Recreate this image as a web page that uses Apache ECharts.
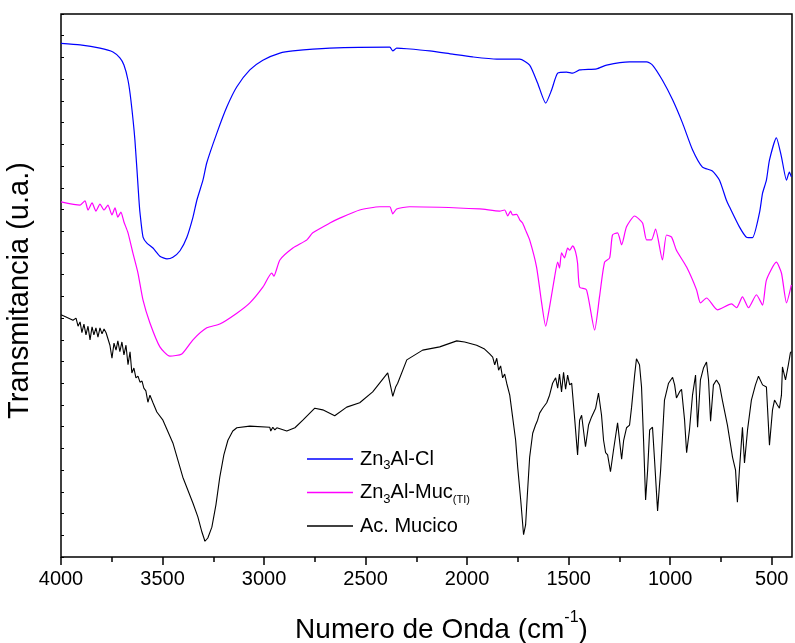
<!DOCTYPE html>
<html>
<head>
<meta charset="utf-8">
<script src="https://cdn.jsdelivr.net/npm/echarts@6/dist/echarts.min.js"></script>
<style>
html,body{margin:0;padding:0;background:#fff;}
#chart{width:795px;height:643px;}
</style>
</head>
<body>
<div id="chart"></div>
<script>
// ---- Data (wavenumber cm^-1, transmittance in arbitrary units) ----
var clWave = [4000,3906,3808,3744,3710,3690,3670,3656,3636,3616,3611,3596,3577,3547,3513,3478,3449,3414,3380,3350,3331,3301,3282,3232,3183,3134,3070,3006,2922,2858,2676,2381,2366,2347,2297,2184,2071,1973,1854,1741,1692,1653,1613,1584,1554,1510,1480,1446,1362,1313,1200,1116,1087,1038,988,939,890,841,792,757,723,708,659,624,595,560,545,526,511,477,452,427,413,403];
var clVal = [94.6,94.3,93.7,93.0,91.9,90.6,87.8,84.2,76.8,65.7,63.4,58.9,57.8,56.9,55.4,54.9,55.2,56.4,58.9,62.6,65.7,69.4,72.6,78.1,82.9,86.6,89.7,91.5,92.8,93.2,93.7,93.9,93.2,93.7,93.6,93.2,92.6,92.1,91.7,91.7,90.6,87.3,83.6,86.0,89.1,89.3,89.1,89.7,89.9,90.6,91.2,91.2,90.6,87.8,84.2,79.9,75.0,71.8,71.1,69.4,65.7,64.5,60.8,58.9,58.8,63.4,67.0,69.4,73.1,77.2,73.7,69.4,70.9,70.0];

var mucWave = [4000,3906,3882,3867,3847,3828,3808,3788,3769,3749,3734,3720,3705,3690,3670,3646,3621,3596,3562,3513,3464,3405,3350,3282,3218,3134,3070,3006,2962,2952,2922,2858,2789,2760,2676,2627,2529,2430,2381,2366,2347,2283,1938,1840,1815,1800,1786,1776,1756,1741,1727,1712,1692,1658,1633,1613,1594,1569,1554,1545,1535,1520,1505,1495,1480,1466,1456,1446,1412,1372,1348,1323,1298,1284,1259,1239,1215,1175,1136,1116,1092,1072,1038,1018,993,969,919,870,851,821,767,698,673,644,614,575,545,526,477,452,427,403];
var mucVal = [65.4,64.8,65.6,63.9,65.2,63.7,65.0,63.9,64.8,63.0,64.3,62.6,63.5,61.7,59.7,56.0,52.3,47.3,43.1,38.7,37.0,37.4,40.0,42.2,42.9,44.9,46.8,49.7,52.3,51.7,54.7,56.9,58.4,59.7,61.5,62.4,63.9,64.5,64.5,63.2,64.1,64.5,64.1,63.7,63.9,62.8,63.7,63.0,63.1,62.1,61.5,60.2,58.4,53.4,46.8,42.5,46.0,51.6,54.3,53.2,56.0,55.1,56.9,56.5,57.3,56.2,54.1,49.7,49.2,41.8,47.9,54.3,55.1,59.3,59.7,57.5,60.8,62.8,61.5,58.4,58.4,60.4,54.7,59.3,58.9,56.5,53.4,49.2,46.8,47.7,45.5,46.6,45.9,47.9,45.9,48.3,46.4,51.0,54.3,52.3,46.8,50.1];

var acWave = [4000,3975,3941,3926,3916,3906,3897,3887,3877,3867,3857,3847,3838,3828,3818,3808,3798,3788,3778,3769,3759,3749,3739,3729,3720,3710,3700,3690,3680,3670,3660,3651,3641,3631,3621,3611,3601,3592,3582,3572,3562,3547,3528,3498,3449,3400,3350,3326,3306,3291,3277,3257,3237,3218,3198,3178,3154,3134,3070,2972,2967,2957,2947,2937,2888,2848,2809,2750,2711,2652,2593,2529,2465,2391,2366,2352,2342,2297,2219,2135,2051,2012,1953,1914,1889,1874,1864,1854,1845,1835,1825,1815,1805,1790,1776,1761,1751,1736,1722,1712,1702,1692,1677,1663,1653,1643,1628,1608,1594,1579,1564,1554,1545,1535,1525,1515,1505,1495,1485,1471,1456,1446,1436,1417,1402,1387,1367,1353,1338,1328,1318,1308,1294,1279,1259,1239,1229,1215,1200,1190,1175,1166,1151,1141,1131,1121,1111,1101,1087,1077,1062,1047,1028,1008,988,978,969,954,944,929,919,905,890,875,865,851,836,821,811,801,787,772,757,743,718,693,678,669,659,644,634,619,600,580,565,545,526,511,496,486,472,462,452,447,432,423,418,408,403];
var acVal = [44.6,44.2,43.6,44.0,42.5,43.3,41.3,42.9,40.9,42.5,40.0,42.4,40.9,42.2,40.5,42.2,41.1,42.0,41.3,41.4,39.0,36.6,39.4,38.1,39.8,37.8,39.6,37.2,39.0,35.4,37.8,33.9,34.8,33.0,33.3,32.2,32.4,31.1,30.6,28.5,29.8,28.4,26.7,25.2,21.0,14.7,9.9,7.4,4.6,2.9,3.5,5.5,9.6,14.7,18.8,21.5,23.2,23.8,24.1,23.9,23.2,23.9,23.4,23.8,23.2,23.8,25.2,27.4,27.1,26.0,27.6,28.4,30.4,33.9,29.6,31.3,32.0,36.3,38.1,38.7,39.8,39.6,39.0,38.3,37.4,36.8,35.4,36.6,34.4,35.2,33.0,33.7,32.0,29.8,25.8,21.5,16.6,10.5,4.1,5.9,12.3,18.4,22.8,24.3,25.2,26.5,27.4,28.4,29.8,32.0,33.0,31.1,33.7,30.4,34.0,30.9,33.5,31.7,32.0,25.8,18.8,25.2,26.1,20.3,24.3,25.8,27.4,30.2,26.1,21.5,19.2,18.8,15.7,19.7,24.7,18.0,21.5,23.8,24.3,27.6,33.5,36.5,35.4,31.3,21.5,10.5,16.0,23.4,23.9,17.9,8.5,16.0,28.9,32.0,33.1,31.7,29.3,30.4,30.9,25.2,19.2,23.4,29.8,33.5,23.9,32.6,34.8,35.9,32.6,25.0,31.7,32.6,31.7,28.9,24.3,18.4,16.0,10.1,16.0,23.9,17.3,23.4,28.9,31.7,33.3,31.7,31.3,20.6,27.1,28.9,28.0,27.4,29.8,35.0,32.6,32.9,35.4,37.6,37.8];

var majorTicks = [4000,3500,3000,2500,2000,1500,1000,500];
var minorTicks = [3750,3250,2750,2250,1750,1250,750];

var seriesNames = ['Zn3Al-Cl','Zn3Al-Muc(TI)','Ac. Mucico'];
var legendRich = {
  'Zn3Al-Cl': '{n|Zn}{s|3}{n|Al-Cl}',
  'Zn3Al-Muc(TI)': '{n|Zn}{s|3}{n|Al-Muc}{t|(TI)}',
  'Ac. Mucico': '{n|Ac. Mucico}'
};

function pairs(w, v){ return w.map(function(x,i){ return [x, v[i]]; }); }

var chart = echarts.init(document.getElementById('chart'), null, {renderer:'canvas'});
var font = 'Liberation Sans, Arial, sans-serif';
chart.setOption({
  animation: false,
  backgroundColor: '#fff',
  grid: {left: 61, right: 3, top: 14, bottom: 86, outerBoundsMode: 'none', containLabel: false,
    show: true, borderColor: '#000', borderWidth: 1.5, backgroundColor: 'transparent'},
  legend: {
    orient: 'vertical', left: 302, top: 444,
    icon: 'rect', itemWidth: 46, itemHeight: 1.4, itemGap: 10.5,
    data: seriesNames,
    formatter: function(name){ return legendRich[name]; },
    textStyle: {
      fontFamily: font, color: '#000', padding: [0, 0, 0, 2],
      rich: {
        n: {fontSize: 20, fontFamily: font, color: '#000', lineHeight: 26, verticalAlign: 'middle'},
        s: {fontSize: 13, fontFamily: font, color: '#000', lineHeight: 12, verticalAlign: 'bottom'},
        t: {fontSize: 11, fontFamily: font, color: '#000', lineHeight: 11, verticalAlign: 'bottom'}
      }
    }
  },
  xAxis: [{
    type: 'value', inverse: true, min: 400, max: 4000,
    name: '{a|Numero de Onda (cm}{b|-1}{a|)}',
    nameLocation: 'middle', nameGap: 53,
    nameTextStyle: {
      padding: [0, 0, 0, 30],
      rich: {
        a: {fontSize: 28, fontFamily: font, color: '#000', lineHeight: 34, verticalAlign: 'bottom'},
        b: {fontSize: 16, fontFamily: font, color: '#000', lineHeight: 16, verticalAlign: 'top'}
      }
    },
    axisLine: {show: false},
    splitLine: {show: false},
    axisTick: {show: true, length: 8, inside: false, lineStyle: {color: '#000', width: 1.5}, customValues: majorTicks},
    axisLabel: {show: true, fontSize: 20, fontFamily: font, color: '#000', margin: 12, customValues: majorTicks,
      formatter: function(v){ return String(v); }}
  }, {
    type: 'value', inverse: true, min: 400, max: 4000, position: 'bottom',
    axisLine: {show: false}, splitLine: {show: false},
    axisTick: {show: true, length: 5, inside: false, lineStyle: {color: '#000', width: 1.5}, customValues: minorTicks},
    axisLabel: {show: false}
  }],
  yAxis: {
    type: 'value', min: 0, max: 100, interval: 4,
    name: 'Transmitancia (u.a.)', nameLocation: 'middle', nameGap: 27, nameRotate: 90,
    nameTextStyle: {fontSize: 29, fontFamily: font, color: '#000', padding: [0, 10, 0, 0]},
    axisLine: {show: false}, splitLine: {show: false},
    axisTick: {show: true, inside: true, length: 3, lineStyle: {color: '#000', width: 1}},
    axisLabel: {show: false}
  },
  series: [
    {name: 'Zn3Al-Cl', type: 'line', data: pairs(clWave, clVal), symbol: 'none', smooth: 0.2, lineStyle: {color: '#0000ff', width: 1.2}, itemStyle: {color: '#0000ff'}},
    {name: 'Zn3Al-Muc(TI)', type: 'line', data: pairs(mucWave, mucVal), symbol: 'none', smooth: 0.2, lineStyle: {color: '#ff00ff', width: 1.2}, itemStyle: {color: '#ff00ff'}},
    {name: 'Ac. Mucico', type: 'line', data: pairs(acWave, acVal), symbol: 'none', lineStyle: {color: '#000000', width: 1.1}, itemStyle: {color: '#000000'}}
  ]
});
</script>
</body>
</html>
